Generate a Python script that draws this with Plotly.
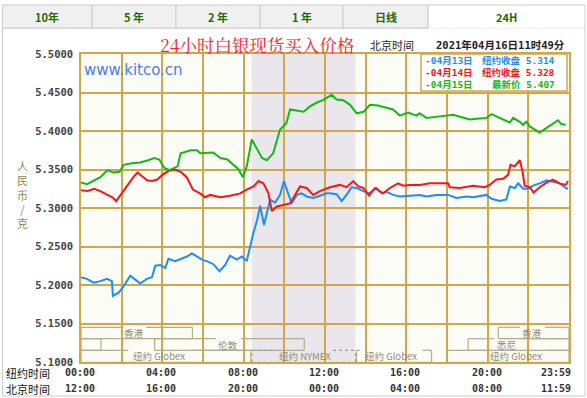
import plotly.graph_objects as go

# ---------------- data ----------------
hours_0413 = [0.0, 0.29, 0.62, 0.95, 1.28, 1.52, 1.57, 1.85, 2.09, 2.42, 2.67, 2.91, 3.24, 3.49, 3.65,
              3.9, 4.14, 4.3, 4.63, 4.96, 5.21, 5.45, 5.7, 6.02, 6.19, 6.51, 6.81, 7.09, 7.33, 7.66,
              7.91, 8.15, 8.32, 8.48, 8.67, 8.81, 9.0, 9.14, 9.3, 9.54, 9.79, 9.98, 10.15, 10.36,
              10.61, 10.85, 11.1, 11.42, 11.75, 12.08, 12.24, 12.57, 12.82, 13.06, 13.31, 13.56,
              13.88, 14.17, 14.54, 14.78, 15.03, 15.35, 15.68, 16.17, 16.67, 16.99, 17.48, 18.05,
              18.47, 18.96, 19.28, 19.94, 20.19, 20.59, 20.92, 21.09, 21.33, 21.5, 21.74, 21.98,
              22.23, 22.56, 22.89, 23.21, 23.54, 23.84, 23.95]
vals_0413 = [5.210, 5.208, 5.203, 5.205, 5.208, 5.205, 5.186, 5.190, 5.198, 5.212, 5.207, 5.202, 5.208,
             5.210, 5.225, 5.226, 5.222, 5.234, 5.231, 5.235, 5.237, 5.241, 5.237, 5.232, 5.231, 5.227,
             5.218, 5.226, 5.238, 5.233, 5.237, 5.231, 5.250, 5.268, 5.285, 5.303, 5.278, 5.294, 5.311,
             5.307, 5.317, 5.335, 5.322, 5.306, 5.317, 5.319, 5.315, 5.313, 5.316, 5.319, 5.319, 5.318,
             5.309, 5.317, 5.327, 5.326, 5.322, 5.319, 5.326, 5.319, 5.321, 5.317, 5.315, 5.316, 5.317,
             5.315, 5.317, 5.317, 5.313, 5.315, 5.314, 5.317, 5.312, 5.309, 5.311, 5.328, 5.326, 5.332,
             5.325, 5.325, 5.329, 5.332, 5.336, 5.334, 5.332, 5.326, 5.325]

hours_0414 = [0.0, 0.33, 0.65, 0.95, 1.3, 1.55, 1.73, 2.0, 2.25, 2.6, 2.78, 3.0, 3.25, 3.5, 3.75, 4.0,
              4.3, 4.63, 4.9, 5.2, 5.5, 5.85, 6.11, 6.35, 6.86, 7.33, 7.83, 8.15, 8.48, 8.73, 8.97,
              9.22, 9.38, 9.63, 9.95, 10.28, 10.44, 10.77, 11.1, 11.42, 11.75, 12.08, 12.24, 12.74,
              13.06, 13.39, 13.64, 13.88, 14.17, 14.45, 14.86, 15.19, 15.6, 15.84, 16.17, 16.67, 17.16,
              18.05, 18.14, 18.63, 19.28, 19.86, 20.1, 20.43, 20.76, 21.0, 21.12, 21.33, 21.58, 21.71,
              21.82, 22.07, 22.26, 22.56, 22.89, 23.21, 23.54, 23.84, 23.95]
vals_0414 = [5.323, 5.322, 5.325, 5.322, 5.317, 5.314, 5.309, 5.319, 5.328, 5.341, 5.346, 5.341, 5.336,
             5.335, 5.337, 5.343, 5.348, 5.350, 5.347, 5.340, 5.324, 5.319, 5.314, 5.317, 5.314, 5.316,
             5.319, 5.324, 5.328, 5.335, 5.332, 5.319, 5.296, 5.302, 5.304, 5.306, 5.313, 5.328, 5.326,
             5.317, 5.322, 5.326, 5.327, 5.330, 5.327, 5.335, 5.328, 5.326, 5.316, 5.326, 5.319, 5.326,
             5.332, 5.329, 5.330, 5.330, 5.332, 5.332, 5.327, 5.326, 5.329, 5.327, 5.330, 5.337, 5.338,
             5.343, 5.356, 5.354, 5.362, 5.348, 5.329, 5.327, 5.320, 5.327, 5.333, 5.337, 5.332, 5.330,
             5.335]

hours_0415 = [0.0, 0.3, 0.65, 0.95, 1.3, 1.6, 1.9, 2.1, 2.5, 2.9, 3.3, 3.6, 3.85, 4.1, 4.35, 4.75, 4.9,
              5.4, 5.7, 5.87, 6.5, 6.86, 7.2, 7.5, 7.75, 7.96, 8.15, 8.4, 8.65, 8.9, 9.14, 9.45, 9.79,
              10.1, 10.28, 10.6, 10.95, 11.26, 11.6, 11.9, 12.1, 12.33, 12.57, 12.9, 13.23, 13.56,
              13.9, 14.21, 14.6, 15.0, 15.35, 15.68, 16.09, 16.5, 16.65, 16.99, 17.5, 17.65, 18.3,
              18.8, 19.12, 19.45, 19.95, 20.19, 20.5, 20.85, 21.09, 21.25, 21.58, 21.74, 21.9, 22.07,
              22.3, 22.56, 22.9, 23.2, 23.46, 23.62, 23.84]
vals_0415 = [5.333, 5.331, 5.336, 5.340, 5.349, 5.346, 5.347, 5.356, 5.358, 5.359, 5.362, 5.365, 5.363,
             5.352, 5.349, 5.354, 5.371, 5.375, 5.375, 5.371, 5.372, 5.365, 5.363, 5.356, 5.350, 5.340,
             5.354, 5.389, 5.376, 5.365, 5.362, 5.371, 5.402, 5.410, 5.428, 5.427, 5.425, 5.432, 5.437,
             5.440, 5.443, 5.447, 5.441, 5.440, 5.434, 5.423, 5.425, 5.434, 5.433, 5.430, 5.428, 5.420,
             5.424, 5.420, 5.423, 5.417, 5.418, 5.419, 5.421, 5.417, 5.415, 5.416, 5.417, 5.422, 5.418,
             5.414, 5.411, 5.417, 5.412, 5.408, 5.412, 5.406, 5.402, 5.398, 5.404, 5.410, 5.414, 5.409,
             5.408]

legend_dates = ["04月13日", "04月14日", "04月15日"]
legend_kinds = ["纽约收盘", "纽约收盘", "最新价"]
legend_vals = [5.314, 5.328, 5.407]

tick_hours = [0, 4, 8, 12, 16, 20, 24]
ny_ticks = ["00:00", "04:00", "08:00", "12:00", "16:00", "20:00", "23:59"]
bj_ticks = ["12:00", "16:00", "20:00", "00:00", "04:00", "08:00", "11:59"]

tabs = ["10年", "5 年", "2 年", "1 年", "日线", "24H"]

session_names = ["香港", "香港", "悉尼", "伦敦", "悉尼", "纽约 Globex", "纽约 NYMEX", "纽约 Globex", "纽约 Globex"]
session_start = [0, 20.52, 0, 3.62, 19.04, 0, 8.4, 13.55, 18.0]
session_end = [5.48, 24, 0.98, 10.98, 24, 8.35, 13.5, 17.24, 24]
session_row = [0, 0, 1, 1, 1, 2, 2, 2, 2]
session_label_hour = [2.6, 22.2, None, 7.25, 20.95, 3.85, 11.0, 15.25, 21.4]

# ---------------- layout helpers ----------------
W, H = 587, 398
L, R, T, B = 81, 18, 54, 36
PW = W - L - R
PH = H - T - B
YMIN, YMAX = 5.1, 5.5
PXH = PW / 24.0


def px(p):
    return (p - L) / PW


def py(p):
    return (H - B - p) / PH


def yv(p):
    return YMAX - (p - T) / PH * (YMAX - YMIN)


GOLD = "#d3a64c"
MONO = "DejaVu Sans Mono, Noto Sans CJK SC"
CJK = "Noto Sans CJK SC"

fig = go.Figure()
colors = ["#1e8cff", "#ff1414", "#12bb12"]
for xs, ys, c, nm in [(hours_0413, vals_0413, colors[0], "04月13日"),
                      (hours_0414, vals_0414, colors[1], "04月14日"),
                      (hours_0415, vals_0415, colors[2], "04月15日")]:
    fig.add_trace(go.Scatter(x=xs, y=ys, mode="lines", name=nm,
                             line=dict(color=c, width=2), hoverinfo="skip"))

shapes = []
ann = []

# NYMEX shading
ni = session_names.index("纽约 NYMEX")
shapes.append(dict(type="rect", xref="x", yref="paper", x0=session_start[ni], x1=session_end[ni],
                   y0=0, y1=1, fillcolor="#e9e7eb", line=dict(width=0), layer="below"))

# session boxes
row_top = [327.3, 338.7, 350.3]
row_bot = [338.7, 350.3, 362.3]
BOXC = "#b4ad86"
for name, s, e, r, c in zip(session_names, session_start, session_end, session_row, session_label_hour):
    yt, yb = yv(row_top[r]), yv(row_bot[r])
    lc = "#9a9a9a" if "NYMEX" in name else BOXC
    dash = "dot" if "NYMEX" in name else "solid"
    ln = dict(color=lc, width=1.2, dash=dash)
    nc = sum(1 for ch in name if ord(ch) > 255)
    na = len(name) - nc
    wpx = nc * 9.5 + na * 5.3
    if c is not None:
        g = (wpx / 2 + 3) / PXH
        shapes.append(dict(type="line", xref="x", yref="y", x0=s, x1=max(s, c - g), y0=yt, y1=yt, line=ln, layer="below"))
        shapes.append(dict(type="line", xref="x", yref="y", x0=min(e, c + g), x1=e, y0=yt, y1=yt, line=ln, layer="below"))
        ann.append(dict(x=c, y=(yt + yb) / 2, xref="x", yref="y", text=name, showarrow=False,
                        font=dict(family=CJK, size=9.5, color="#8e8e78"), yanchor="middle", borderpad=0))
    else:
        shapes.append(dict(type="line", xref="x", yref="y", x0=s, x1=e, y0=yt, y1=yt, line=ln, layer="below"))
    shapes.append(dict(type="line", xref="x", yref="y", x0=s, x1=e, y0=yb, y1=yb, line=ln, layer="below"))
    shapes.append(dict(type="line", xref="x", yref="y", x0=s, x1=s, y0=yb, y1=yt, line=ln, layer="below"))
    shapes.append(dict(type="line", xref="x", yref="y", x0=e, x1=e, y0=yb, y1=yt, line=ln, layer="below"))

# outer panel frame
shapes.append(dict(type="rect", xref="paper", yref="paper", x0=px(2.5), x1=px(585), y0=py(396), y1=py(28),
                   line=dict(color="#cccccc", width=1), fillcolor="rgba(0,0,0,0)", layer="below"))

# tabs
tab_edges = [2.5, 92, 176, 260, 343, 428, 585]
for i, t in enumerate(tabs):
    active = (i == len(tabs) - 1)
    shapes.append(dict(type="rect", xref="paper", yref="paper", x0=px(tab_edges[i]), x1=px(tab_edges[i + 1]),
                       y0=py(28), y1=py(5), fillcolor="#ffffff" if active else "#f0f0f0",
                       line=dict(color="#cccccc", width=1), layer="below"))
    ann.append(dict(x=px((tab_edges[i] + tab_edges[i + 1]) / 2), y=py(17), xref="paper", yref="paper",
                    text="<b>%s</b>" % t, showarrow=False, font=dict(family=CJK, size=11, color="#1f6b00"),
                    xanchor="center", yanchor="middle"))
# hide bottom border of active tab
shapes.append(dict(type="line", xref="paper", yref="paper", x0=px(428.5), x1=px(584.5), y0=py(28), y1=py(28),
                   line=dict(color="#ffffff", width=1.5), layer="below"))

# legend box
shapes.append(dict(type="rect", xref="paper", yref="paper", x0=px(421), x1=px(567), y0=py(91), y1=py(54),
                   fillcolor="#ffffff", line=dict(color=GOLD, width=1.5), layer="above"))
legend_y = [60.7, 72.7, 84.3]
for i in range(3):
    ann.append(dict(x=px(422.5), y=py(legend_y[i]), xref="paper", yref="paper", text="-" + legend_dates[i],
                    showarrow=False, xanchor="left", yanchor="middle",
                    font=dict(family=MONO, size=9.5, color=colors[i], weight="bold")))
    ann.append(dict(x=px(557), y=py(legend_y[i]), xref="paper", yref="paper",
                    text="%s %.3f" % (legend_kinds[i], legend_vals[i]),
                    showarrow=False, xanchor="right", yanchor="middle",
                    font=dict(family=MONO, size=9.5, color=colors[i], weight="bold")))

# title and header texts
ann.append(dict(x=px(257), y=py(44.5), xref="paper", yref="paper", text="24小时白银现货买入价格",
                showarrow=False, xanchor="center", yanchor="middle",
                font=dict(family="Noto Serif CJK SC, Noto Sans CJK SC", size=17.5, color="#ff2020")))
ann.append(dict(x=px(368), y=py(45), xref="paper", yref="paper", text="北京时间",
                showarrow=False, xanchor="left", yanchor="middle", font=dict(family=CJK, size=11, color="#222222")))
ann.append(dict(x=px(567), y=py(45), xref="paper", yref="paper", text="2021年04月16日11时49分",
                showarrow=False, xanchor="right", yanchor="middle",
                font=dict(family=MONO, size=10.5, color="#222222", weight="bold")))
ann.append(dict(x=px(82), y=py(70), xref="paper", yref="paper", text="www.kitco.cn",
                showarrow=False, xanchor="left", yanchor="middle",
                font=dict(family="DejaVu Sans", size=15, color="#4a7cf6")))

# vertical y-axis title (stacked characters)
ylab = "人民币/克"
ann.append(dict(x=px(22), y=py(194), xref="paper", yref="paper", text="<br>".join(list(ylab)),
                showarrow=False, xanchor="center", yanchor="middle",
                font=dict(family=CJK, size=11, color="#8c8a5a")))

# bottom time labels
ann.append(dict(x=px(4), y=py(372.5), xref="paper", yref="paper", text="纽约时间", showarrow=False,
                xanchor="left", yanchor="middle", font=dict(family=CJK, size=11, color="#111111")))
ann.append(dict(x=px(4), y=py(389), xref="paper", yref="paper", text="北京时间", showarrow=False,
                xanchor="left", yanchor="middle", font=dict(family=CJK, size=11, color="#111111")))
for h, a, b in zip(tick_hours, ny_ticks, bj_ticks):
    last = (h == tick_hours[-1])
    for txt, yy in [(a, 372.5), (b, 389)]:
        ann.append(dict(x=h, y=py(yy), xref="x", yref="paper", text=txt, showarrow=False,
                        xanchor="right" if last else "center", xshift=4 if last else -1, yanchor="middle",
                        font=dict(family=MONO, size=10, color="#333333", weight="bold")))

fig.update_layout(
    width=W, height=H,
    margin=dict(l=L, r=R, t=T, b=B, pad=0),
    paper_bgcolor="#ffffff",
    plot_bgcolor="#fcfcf7",
    showlegend=False,
    shapes=shapes,
    annotations=ann,
    xaxis=dict(range=[0, 24], dtick=2, tick0=0, showticklabels=False, showgrid=True,
               gridcolor=GOLD, gridwidth=1.5, zeroline=False, showline=True, linecolor=GOLD,
               linewidth=1.5, mirror=True, ticks=""),
    yaxis=dict(range=[YMIN, YMAX], dtick=0.05, tick0=5.1, tickformat=".4f", showgrid=True,
               gridcolor=GOLD, gridwidth=1.5, zeroline=False, showline=True, linecolor=GOLD,
               linewidth=1.5, mirror=True, ticks="", ticklabelstandoff=4,
               tickfont=dict(family="DejaVu Sans Mono", size=10.5, color="#444444", weight="bold")),
)

fig.write_html("out.html", config={"displayModeBar": False},
               post_script="document.body.style.margin='0';document.body.style.overflow='hidden';")
